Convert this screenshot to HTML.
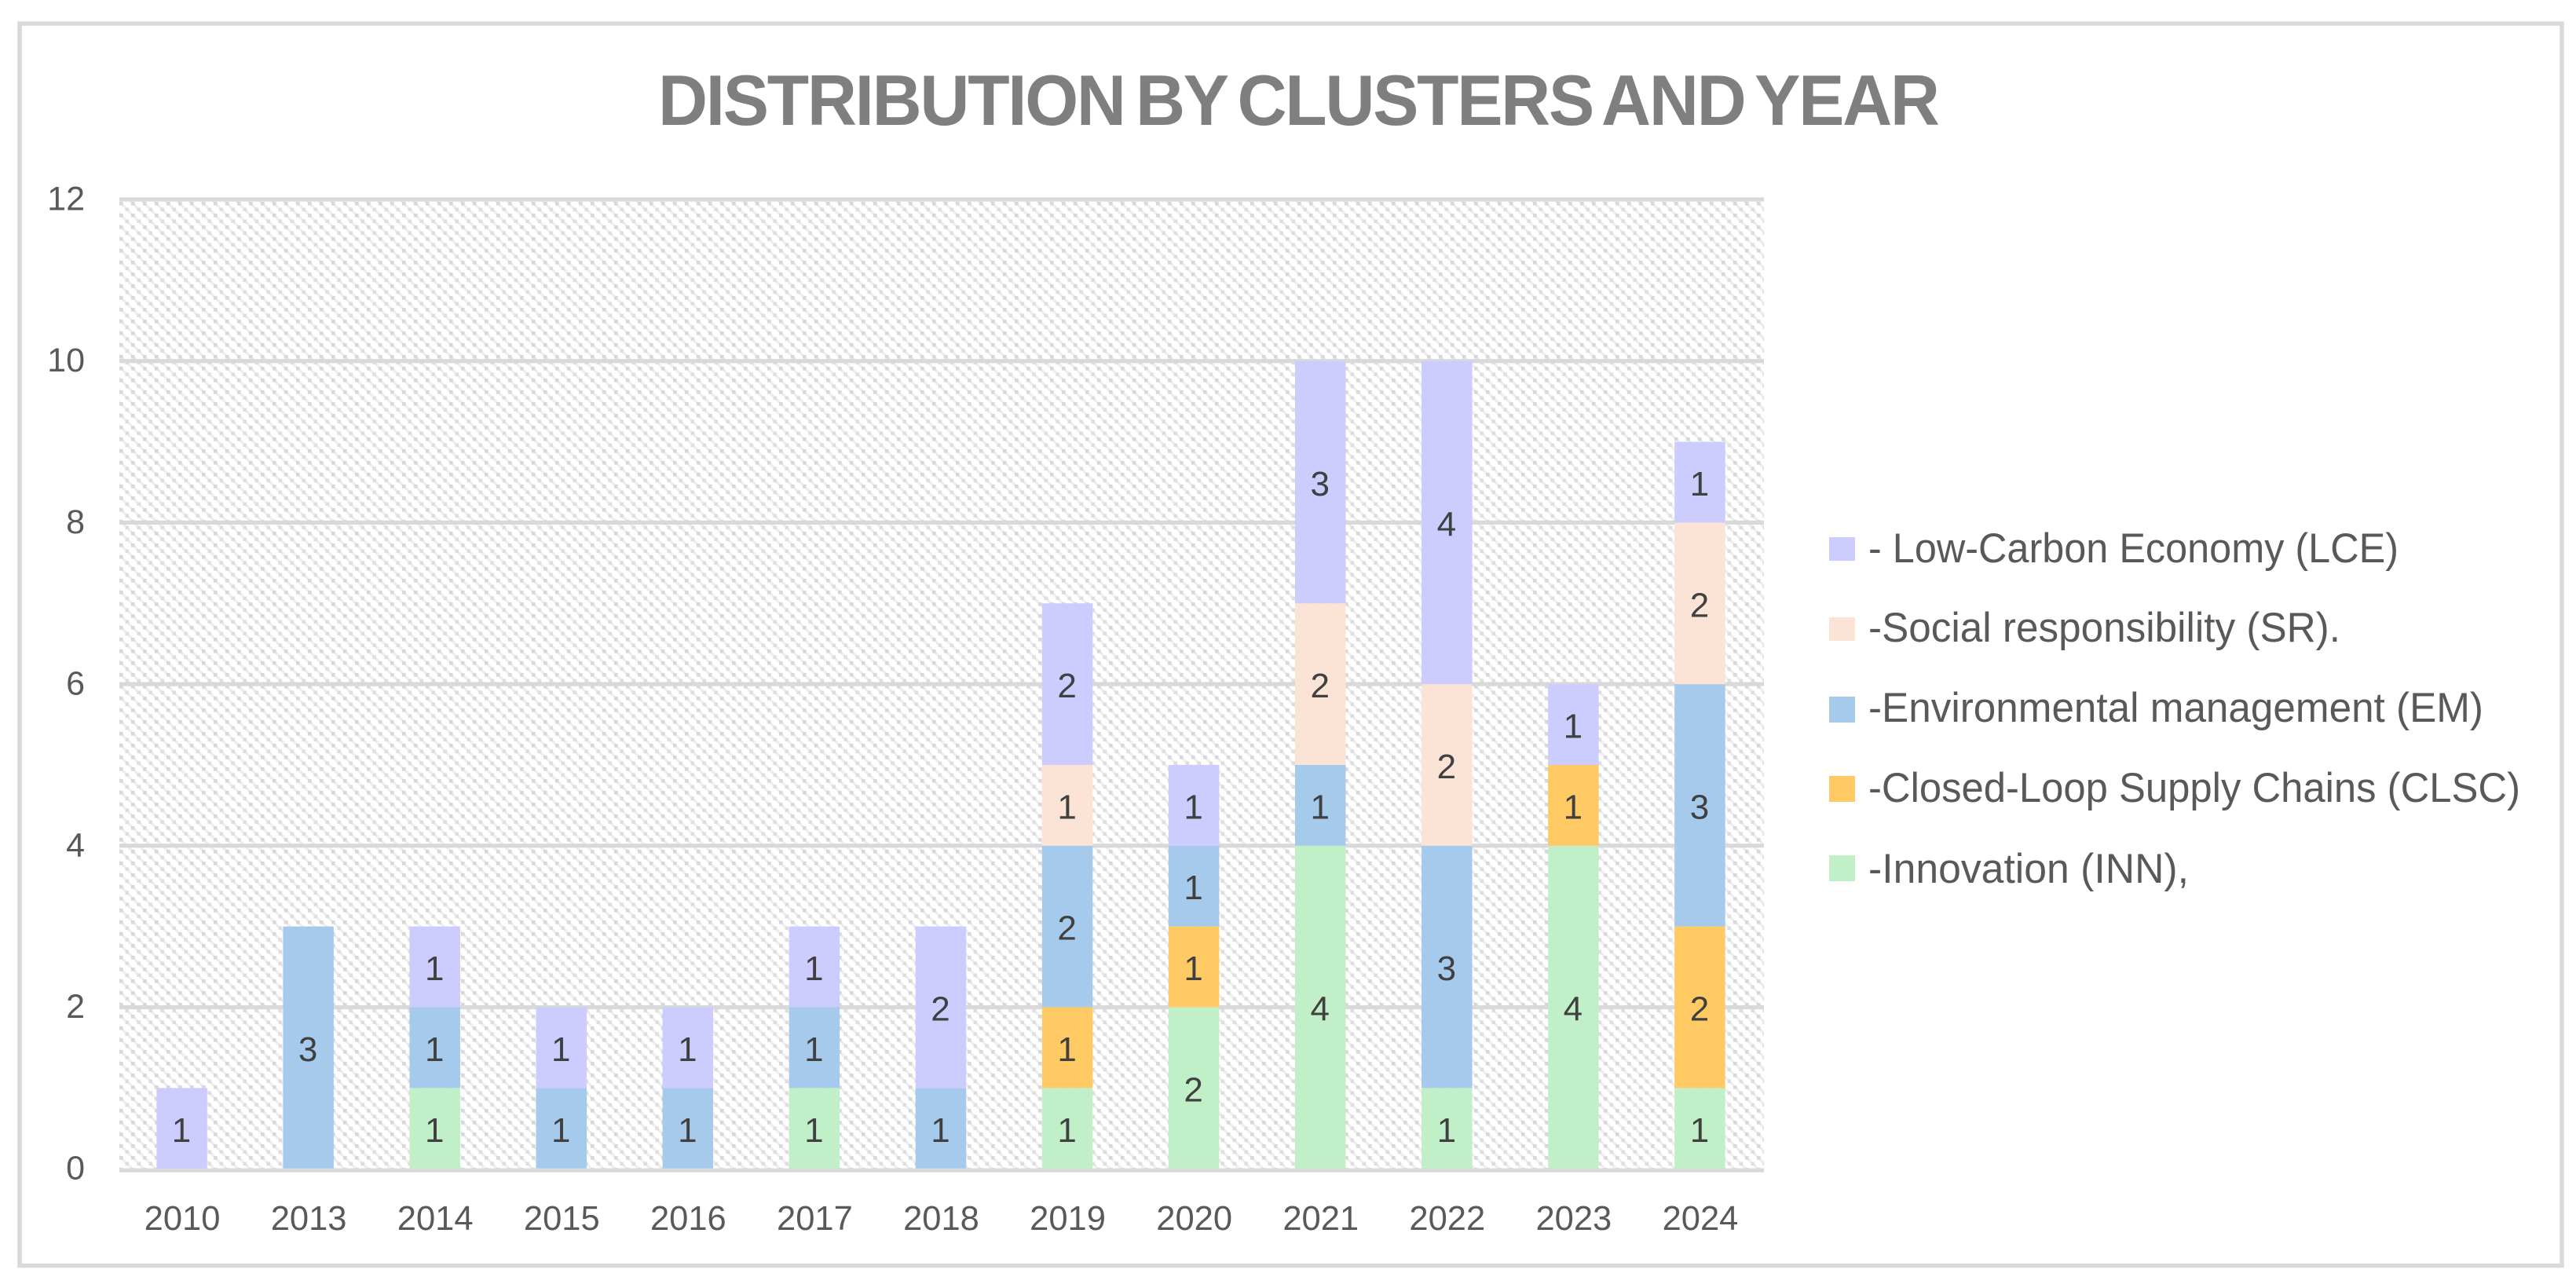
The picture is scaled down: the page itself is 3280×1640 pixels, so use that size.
<!DOCTYPE html>
<html lang="en">
<head>
<meta charset="utf-8">
<title>Distribution by clusters and year</title>
<style>
html,body{margin:0;padding:0;background:#fff;width:3280px;height:1640px;overflow:hidden}
svg{display:block}
text{font-family:"Liberation Sans",sans-serif}
</style>
</head>
<body>
<svg id="chart" xmlns="http://www.w3.org/2000/svg" width="3280" height="1640" viewBox="0 0 3280 1640">
  <defs>
    <pattern id="hatch" width="15" height="15" patternUnits="userSpaceOnUse" x="152" y="257">
      <rect width="15" height="15" fill="#fff"/>
      <path d="M-4,-4 L19,19 M-11.5,3.5 L3.5,18.5 M3.5,-11.5 L18.5,3.5" stroke="#eeeeee" stroke-width="3.2" fill="none"/>
      <rect x="0" y="0" width="4.6" height="4.6" fill="#d8d8d8"/>
      <rect x="7.5" y="7.5" width="4.6" height="4.6" fill="#dedede"/>
    </pattern>
  </defs>
  <rect x="0" y="0" width="3280" height="1640" fill="#fff"/>
  <rect x="25" y="30" width="3237" height="1581.5" fill="#fff" stroke="#d9d9d9" stroke-width="5.5"/>
  <text transform="translate(838,159) scale(0.96,1)" x="0" y="0" font-size="91" font-weight="700" fill="#7f7f7f" word-spacing="-8" textLength="1700" lengthAdjust="spacing">DISTRIBUTION BY CLUSTERS AND YEAR</text>
  <rect x="152" y="254" width="2094" height="1234" fill="url(#hatch)"/>
  <g id="grid"></g>
  <g id="bars"></g>
  <g id="axes"></g>
  <g>
    <g>
      <rect x="2329" y="684" width="33" height="30" fill="#ccccff"/>
      <text x="2379" y="716" font-size="53" fill="#595959" textLength="675" lengthAdjust="spacingAndGlyphs">- Low-Carbon Economy (LCE)</text>
    </g>
    <g>
      <rect x="2329" y="786" width="33" height="30" fill="#fbe3d6"/>
      <text x="2379" y="817" font-size="53" fill="#595959" textLength="601" lengthAdjust="spacingAndGlyphs">-Social responsibility (SR).</text>
    </g>
    <g>
      <rect x="2329" y="887" width="33" height="33" fill="#a6caec"/>
      <text x="2379" y="919" font-size="53" fill="#595959" textLength="783" lengthAdjust="spacingAndGlyphs">-Environmental management (EM)</text>
    </g>
    <g>
      <rect x="2329" y="988" width="33" height="33" fill="#ffca63"/>
      <text x="2379" y="1021" font-size="53" fill="#595959" textLength="830" lengthAdjust="spacingAndGlyphs">-Closed-Loop Supply Chains (CLSC)</text>
    </g>
    <g>
      <rect x="2329" y="1089" width="33" height="33" fill="#c1f0c8"/>
      <text x="2379" y="1124" font-size="53" fill="#595959" textLength="408" lengthAdjust="spacingAndGlyphs">-Innovation (INN),</text>
    </g>
  </g>
</svg>
<script>
var categories = ["2010","2013","2014","2015","2016","2017","2018","2019","2020","2021","2022","2023","2024"];
var yTicks = [0,2,4,6,8,10,12];
var seriesKeys = ["inn","clsc","em","sr","lce"];
var seriesColors = ["#c1f0c8","#ffca63","#a6caec","#fbe3d6","#ccccff"];
var inn  = [0,0,1,0,0,1,0,1,2,4,1,4,1];
var clsc = [0,0,0,0,0,0,0,1,1,0,0,1,2];
var em   = [0,3,1,1,1,1,1,2,1,1,3,0,3];
var sr   = [0,0,0,0,0,0,0,1,0,2,2,0,2];
var lce  = [1,0,1,1,1,1,2,2,1,3,4,1,1];
var seriesValues = [inn,clsc,em,sr,lce];

var NS = "http://www.w3.org/2000/svg";
var plotLeft = 152, plotRight = 2246, yZero = 1488.2, yTop = 254, yMax = 12, barWidth = 64.5;
function yScale(v){ return yZero - (yZero - yTop) * v / yMax; }
function xCenter(i){ return plotLeft + (plotRight - plotLeft) * (i + 0.5) / categories.length - 1; }
function make(tag, parent, attrs){
  var el = document.createElementNS(NS, tag);
  for (var k in attrs) el.setAttribute(k, attrs[k]);
  parent.appendChild(el);
  return el;
}
var gridG = document.getElementById("grid");
var barsG = document.getElementById("bars");
var axesG = document.getElementById("axes");

yTicks.forEach(function(t){
  if (t !== 0) {
    var line = make("rect", gridG, {x: plotLeft, y: yScale(t) - 2.6, width: plotRight - plotLeft, height: 5.2, fill: "#d9d9d9"});
    
    
  }
  var label = make("text", axesG, {x: 108, y: yScale(t) + 13.5, "text-anchor": "end", "font-size": 43, fill: "#595959"});
  
  
  label.textContent = t;
});

categories.forEach(function(cat, i){
  var cum = 0;
  seriesValues.forEach(function(vals, s){
    var v = vals[i];
    if (!v) return;
    var top = yScale(cum + v), bottom = yScale(cum);
    var bar = make("rect", barsG, {x: xCenter(i) - barWidth / 2, y: top, width: barWidth, height: bottom - top, fill: seriesColors[s]});
    
    
    var val = make("text", barsG, {x: xCenter(i) - 0.5, y: (top + bottom) / 2 + 17, "text-anchor": "middle", "font-size": 44, fill: "#404040"});
    
    
    val.textContent = v;
    cum += v;
  });
  var tick = make("text", axesG, {x: xCenter(i) + 0.5, y: 1566, "text-anchor": "middle", "font-size": 43.5, fill: "#595959"});
  
  
  tick.textContent = cat;
});

var axisLine = make("rect", axesG, {x: plotLeft, y: yZero - 0.6, width: plotRight - plotLeft, height: 5, fill: "#d9d9d9"});


</script>
</body>
</html>
